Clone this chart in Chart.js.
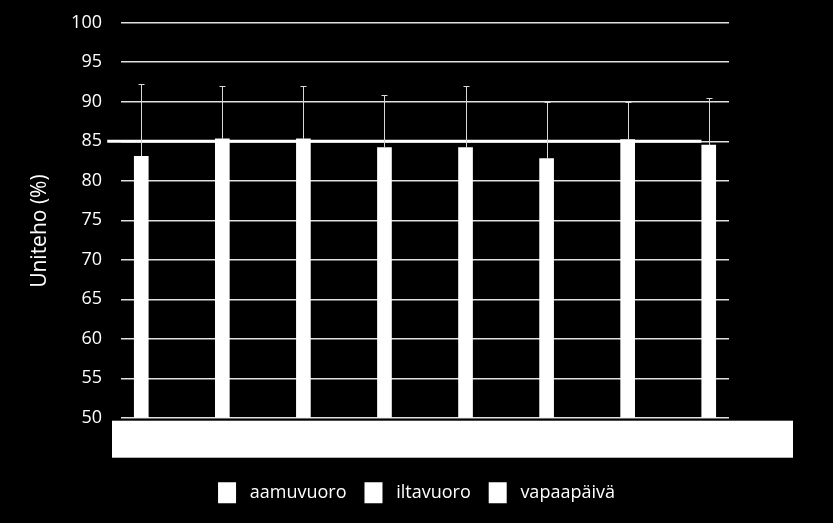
<!DOCTYPE html>
<html>
<head>
<meta charset="utf-8">
<script src="https://cdn.jsdelivr.net/npm/chart.js@4/dist/chart.umd.min.js"></script>
<style>
  html, body { margin: 0; padding: 0; background: #000; }
  #wrap { width: 833px; height: 523px; position: relative; }
</style>
</head>
<body>
<div id="wrap"><canvas id="c"></canvas></div>
<script>
// ---- data ----
const categories = [0, 1, 2, 3, 4, 5, 6, 7];
const values = [83.1, 85.3, 85.3, 84.2, 84.2, 82.8, 85.2, 84.5];
const errors = [9.1, 6.75, 6.75, 6.7, 7.85, 7.2, 4.7, 6.0];
const seriesNames = ['aamuvuoro', 'iltavuoro', 'vapaapäivä'];
const refLineX = [-0.42, 6.91];
const refLineY = [85, 85];
const yTicks = [50, 55, 60, 65, 70, 75, 80, 85, 90, 95, 100];
const yTitle = 'Uniteho (%)';

const FONT = "'Open Sans', 'DejaVu Sans', sans-serif";

const errorBarPlugin = {
  id: 'errorBars',
  afterDatasetsDraw(chart) {
    const ctx = chart.ctx;
    const xs = chart.scales.x, ys = chart.scales.y;
    ctx.save();
    ctx.strokeStyle = '#d8d8d8';
    ctx.lineWidth = 1;
    categories.forEach((c, i) => {
      const x = Math.round(xs.getPixelForValue(c)) + 0.5;
      const y1 = ys.getPixelForValue(values[i]);
      const y2 = Math.round(ys.getPixelForValue(values[i] + errors[i])) + 0.5;
      ctx.beginPath();
      ctx.moveTo(x, y1);
      ctx.lineTo(x, y2);
      ctx.moveTo(x - 3, y2);
      ctx.lineTo(x + 3, y2);
      ctx.stroke();
    });
    ctx.restore();
  }
};

const axisBoxPlugin = {
  id: 'axisBox',
  afterDraw(chart) {
    const ca = chart.chartArea;
    const ctx = chart.ctx;
    ctx.save();
    ctx.fillStyle = '#ffffff';
    ctx.fillRect(ca.left - 9, ca.bottom + 3, (ca.right + 64) - (ca.left - 9), 37);
    ctx.restore();
  }
};

new Chart(document.getElementById('c'), {
  type: 'bar',
  data: {
    datasets: [
      {
        type: 'bar',
        label: seriesNames[0],
        data: categories.map((c, i) => ({ x: c, y: values[i] })),
        backgroundColor: '#ffffff',
        borderWidth: 0,
        barThickness: 14,
        order: 2
      },
      {
        type: 'line',
        label: 'ref',
        data: refLineX.map((x, i) => ({ x: x, y: refLineY[i] })),
        borderColor: '#ffffff',
        borderWidth: 3,
        pointRadius: 0,
        clip: false,
        order: 1
      }
    ]
  },
  options: {
    responsive: true,
    maintainAspectRatio: false,
    animation: false,
    devicePixelRatio: 1,
    layout: { padding: { top: 22.7, left: 0, right: 0, bottom: 9.7 } },
    plugins: {
      tooltip: { enabled: false },
      legend: {
        display: true,
        position: 'bottom',
        labels: {
          color: '#ffffff',
          boxWidth: 18,
          boxHeight: 21,
          padding: 18,
          font: { family: FONT, size: 18 },
          generateLabels() {
            return seriesNames.map((n, i) => ({
              text: ' ' + n,
              fillStyle: '#ffffff',
              strokeStyle: '#ffffff',
              lineWidth: 0,
              fontColor: '#ffffff',
              hidden: false,
              datasetIndex: 0
            }));
          }
        },
        onClick() {}
      }
    },
    scales: {
      x: {
        type: 'linear',
        offset: false,
        min: -0.25,
        max: 7.25,
        display: true,
        grid: { display: false },
        border: { display: false },
        ticks: { display: false },
        afterFit(s) { s.height = 46.6; s.paddingLeft = 0; s.paddingRight = 0; }
      },
      y: {
        type: 'linear',
        position: 'left',
        min: 50,
        max: 100,
        afterBuildTicks(s) { s.ticks = yTicks.map(v => ({ value: v })); },
        grid: { color: '#e0e0e0', lineWidth: 1.4, drawTicks: false },
        border: { display: false },
        ticks: {
          color: '#ffffff',
          padding: 19,
          font: { family: FONT, size: 18 }
        },
        title: {
          display: true,
          text: yTitle + '    ',
          color: '#ffffff',
          font: { family: FONT, size: 21 },
          padding: { top: 27, bottom: 0 }
        },
        afterFit(s) { s.width = 121; s.paddingTop = 0; s.paddingBottom = 0; }
      },
      yRight: {
        type: 'linear',
        position: 'right',
        display: true,
        grid: { display: false },
        border: { display: false },
        ticks: { display: false },
        afterFit(s) { s.width = 104; s.paddingTop = 0; s.paddingBottom = 0; }
      }
    }
  },
  plugins: [errorBarPlugin, axisBoxPlugin]
});
</script>
</body>
</html>
